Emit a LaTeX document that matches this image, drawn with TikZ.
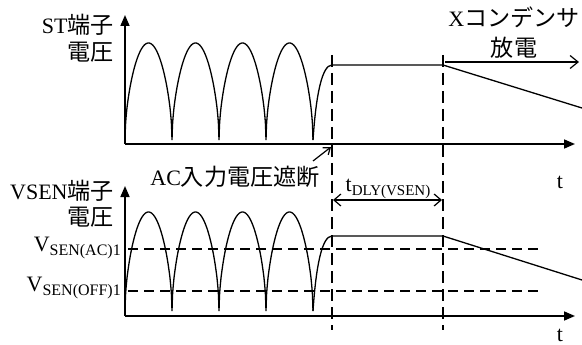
\documentclass[tikz,border=0pt]{standalone}
\usepackage{fontspec}
\setmainfont{Liberation Serif}
\newfontfamily\jp[Scale=1.05]{Noto Sans CJK JP}
\usetikzlibrary{arrows.meta}
\begin{document}
\begin{tikzpicture}[x=1pt,y=-1pt,
  axis/.style={line width=1.6pt,-{Triangle[length=11pt,width=9pt]}},
  wave/.style={line width=1.3pt},
  hdsh/.style={line width=1.2pt,dash pattern=on 10pt off 6pt},
  vdsh/.style={line width=1.2pt,dash pattern=on 12pt off 6pt},
  lbl/.style={font=\fontsize{22}{24}\selectfont,inner sep=0pt},
  barb/.style={line width=1.2pt,-{Straight Barb[length=8pt,width=13pt]}},
  dbarb/.style={line width=1.2pt,{Straight Barb[length=7pt,width=12pt]}-{Straight Barb[length=7pt,width=12pt]}}]
\useasboundingbox (0,0) rectangle (582,345);
% ---- top plot ----
\coordinate (O1) at (125,144);
\coordinate (Y1) at (125,15);
\coordinate (T1) at (575,144);
\draw[axis] (O1) -- (Y1);
\draw[axis] (O1) -- (T1);
\draw[wave] plot[domain=0:188,samples=377] ({125+\x},{140-97*(abs(sin(\x/47*180)))^0.55});
\coordinate (c1) at (313,140);
\coordinate (f1s) at (332,65);
\coordinate (f1e) at (443,65);
\coordinate (e1) at (582,108);
\draw[wave] (c1) .. controls (316,95) and (322,65) .. (f1s) -- (f1e) -- (e1);
\coordinate (xa) at (445,62);
\coordinate (xb) at (579,62);
\draw[barb] (xa) -- (xb);
\node[lbl] (xl1) at (514,17) {X{\jp コンデンサ}};
\node[lbl] (xl2) at (514,48) {\jp 放電};
\node[lbl,anchor=east] (st1) at (114,25) {ST{\jp 端子}};
\node[lbl,anchor=east] (st2) at (114,52) {\jp 電圧};
\node[lbl] (t1) at (560,182) {t};
% ---- dashed verticals ----
\coordinate (d1a) at (332,55);
\coordinate (d1b) at (332,330);
\coordinate (d2a) at (443,55);
\coordinate (d2b) at (443,330);
\draw[vdsh] (d1a) -- (d1b);
\draw[vdsh] (d2a) -- (d2b);
% ---- AC label ----
\node[lbl] (ac) at (235,177) {AC{\jp 入力電圧遮断}};
\coordinate (aa) at (313,161);
\coordinate (ab) at (331,147);
\draw[line width=1.2pt,-{Straight Barb[length=6pt,width=9pt]}] (aa) -- (ab);
% ---- tDLY ----
\coordinate (ta) at (333,200);
\coordinate (tb) at (442,200);
\draw[dbarb] (ta) -- (tb);
\node[lbl] (tdly) at (388,189) {t\raisebox{-0.35ex}{\fontsize{15}{16}\selectfont DLY(VSEN)}};
% ---- bottom plot ----
\coordinate (O2) at (125,316);
\coordinate (Y2) at (125,186);
\coordinate (T2) at (575,316);
\coordinate (h1a) at (128,249);
\coordinate (h1b) at (538,249);
\coordinate (h2a) at (128,291);
\coordinate (h2b) at (538,291);
\draw[hdsh] (h1a) -- (h1b);
\draw[hdsh] (h2a) -- (h2b);
\draw[axis] (O2) -- (Y2);
\draw[axis] (O2) -- (T2);
\draw[wave] plot[domain=0:188,samples=377] ({125+\x},{311-99*(abs(sin(\x/47*180)))^0.55});
\coordinate (c2) at (313,311);
\coordinate (f2s) at (332,236);
\coordinate (f2e) at (443,236);
\coordinate (e2) at (582,280);
\draw[wave] (c2) .. controls (316,266) and (322,236) .. (f2s) -- (f2e) -- (e2);
\node[lbl,anchor=east] (vs1) at (114,191) {VSEN{\jp 端子}};
\node[lbl,anchor=east] (vs2) at (114,217) {\jp 電圧};
\node[lbl,anchor=east] (vac) at (121,248) {V\raisebox{-0.4ex}{\fontsize{16}{17}\selectfont SEN(AC)1}};
\node[lbl,anchor=east] (voff) at (121,288) {V\raisebox{-0.4ex}{\fontsize{16}{17}\selectfont SEN(OFF)1}};
\node[lbl] (t2) at (560,335) {t};
\end{tikzpicture}
\end{document}
